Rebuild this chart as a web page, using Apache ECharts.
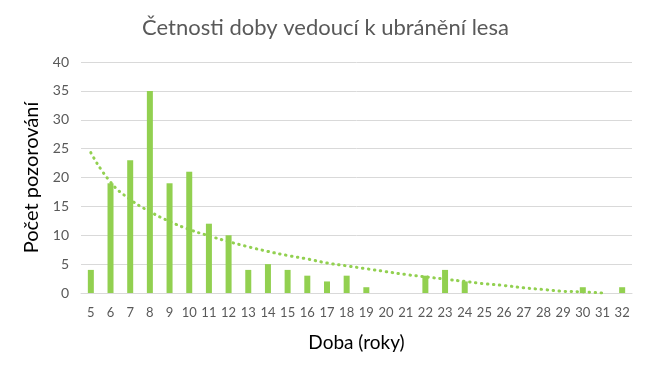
<!DOCTYPE html>
<html><head><meta charset="utf-8">
<script src="https://cdn.jsdelivr.net/npm/echarts@6/dist/echarts.min.js"></script>
<style>html,body{margin:0;padding:0;background:#fff}#c{width:651px;height:374px}</style>
</head><body><div id="c"></div>
<script>
const categories = ['5','6','7','8','9','10','11','12','13','14','15','16','17','18','19','20','21','22','23','24','25','26','27','28','29','30','31','32'];
const counts = [4,19,23,35,19,21,12,10,4,5,4,3,2,3,1,0,0,3,4,2,0,0,0,0,0,1,0,1];
const trend = [24.3,19.2,16.2,14.1,12.4,11.0,9.9,8.9,8.0,7.2,6.5,5.9,5.2,4.7,4.2,3.7,3.2,2.8,2.4,2.0,1.6,1.3,0.9,0.6,0.3,0.2,0,null];
const yTicks = [0,5,10,15,20,25,30,35,40];
const FONT = 'Lato, "Open Sans", sans-serif';
const chart = echarts.init(document.getElementById('c'));
chart.setOption({
  animation: false,
  title: {text: 'Četnosti doby vedoucí k ubránění lesa', left: 'center', top: 12,
    textStyle: {fontFamily: FONT, fontSize: 22, fontWeight: 'normal', color: '#595959'}},
  grid: {left: 81, right: 19, top: 62, bottom: 81, containLabel: false},
  xAxis: {type: 'category', data: categories,
    name: 'Doba (roky)', nameLocation: 'middle', nameGap: 40,
    nameTextStyle: {fontFamily: FONT, fontSize: 19, color: '#000'},
    axisLine: {show: true, lineStyle: {color: '#D9D9D9'}}, axisTick: {show: false},
    axisLabel: {interval: 0, fontFamily: FONT, fontSize: 13, color: '#595959', margin: 13}},
  yAxis: {type: 'value', min: yTicks[0], max: yTicks[yTicks.length-1], interval: 5,
    name: 'Počet pozorování', nameLocation: 'middle', nameGap: 36, nameRotate: 90,
    nameTextStyle: {fontFamily: FONT, fontSize: 20, color: '#000'},
    axisLine: {show: false}, axisTick: {show: false},
    splitLine: {lineStyle: {color: '#D9D9D9', width: 1}},
    axisLabel: {fontFamily: FONT, fontSize: 14, color: '#595959', margin: 12}},
  series: [
    {type: 'bar', data: counts, barWidth: 6, itemStyle: {color: '#92D050'}},
    {type: 'line', data: trend, smooth: true, symbol: 'none', z: 3,
      lineStyle: {color: '#92D050', width: 3, type: [0.5, 5.5], cap: 'round'}}
  ]
});
</script></body></html>
